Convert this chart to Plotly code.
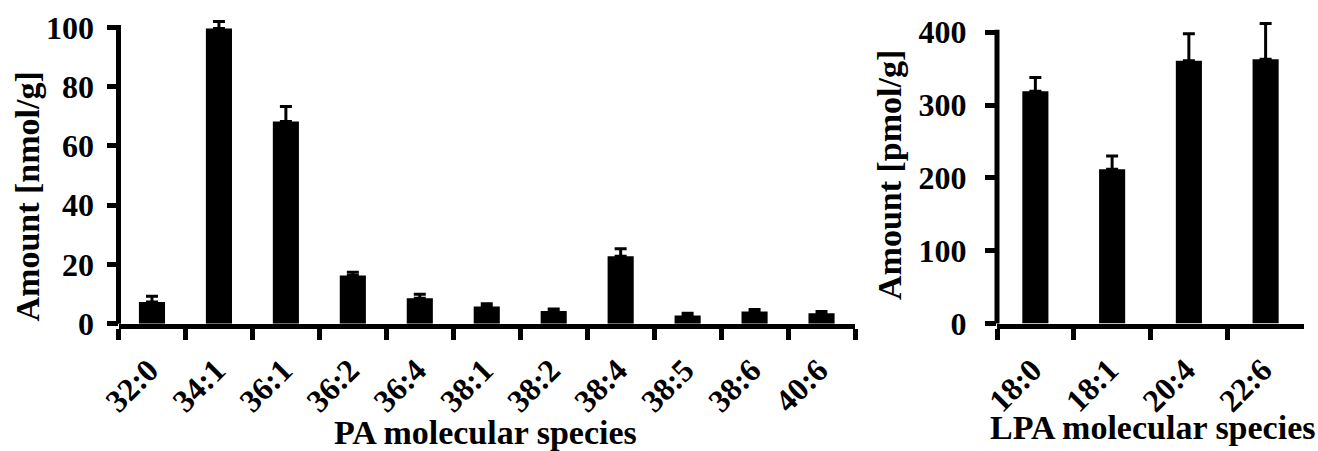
import plotly.graph_objects as go

pa_species = ["32:0", "34:1", "36:1", "36:2", "36:4", "38:1", "38:2", "38:4", "38:5", "38:6", "40:6"]
pa_amount = [7.3, 99.7, 68.3, 16.3, 8.6, 5.8, 4.3, 22.8, 2.8, 4.1, 3.5]
pa_error = [2.0, 2.3, 5.0, 1.1, 1.3, 0.9, 0.7, 2.5, 0.7, 0.7, 0.6]

lpa_species = ["18:0", "18:1", "20:4", "22:6"]
lpa_amount = [319, 212, 361, 363]
lpa_error = [19, 18, 37, 49]

pa_yticks = [0, 20, 40, 60, 80, 100]
lpa_yticks = [0, 100, 200, 300, 400]

W, H = 1318, 451
FONT = dict(family="Liberation Serif, Times New Roman, serif", color="black", weight="bold")
LW = 5  # axis line width (px)

# pixel geometry of the two plot areas
PA_Y0, PA_YMAX_PX = 323.7, 27.5      # pixel rows of y=0 and y=top tick
LPA_Y0, LPA_YMAX_PX = 323.5, 32.3
pa_top, lpa_top = pa_yticks[-1], lpa_yticks[-1]
pa_scale = (PA_Y0 - PA_YMAX_PX) / pa_top
lpa_scale = (LPA_Y0 - LPA_YMAX_PX) / lpa_top
# extend ranges so upward error bars are not clipped
pa_rmax = max(a + e for a, e in zip(pa_amount, pa_error)) * 1.03
lpa_rmax = max(a + e for a, e in zip(lpa_amount, lpa_error)) * 1.03

fig = go.Figure()
fig.add_trace(go.Bar(
    x=pa_species, y=pa_amount, width=0.39,
    marker=dict(color="black", line=dict(width=0)),
    error_y=dict(type="data", array=pa_error, symmetric=False, arrayminus=[0] * len(pa_error),
                 color="black", thickness=3, width=6),
    xaxis="x", yaxis="y", showlegend=False,
))
fig.add_trace(go.Bar(
    x=lpa_species, y=lpa_amount, width=0.34,
    marker=dict(color="black", line=dict(width=0)),
    error_y=dict(type="data", array=lpa_error, symmetric=False, arrayminus=[0] * len(lpa_error),
                 color="black", thickness=3, width=6),
    xaxis="x2", yaxis="y2", showlegend=False,
))

tick_common = dict(showgrid=False, zeroline=False, linecolor="black", linewidth=LW,
                   ticks="outside", ticklen=11, tickwidth=LW, tickcolor="black", automargin=False)
xfont = dict(size=32, **FONT)
yfont = dict(size=32, **FONT)

fig.update_layout(
    template="none",
    width=W, height=H,
    margin=dict(l=0, r=0, t=0, b=0),
    paper_bgcolor="white", plot_bgcolor="white",
    xaxis=dict(domain=[118.5 / W, 855 / W], anchor="y", tickangle=-45, tickson="boundaries",
               showline=True, tickfont=xfont, ticklabelstandoff=10, ticklabelshift=-3,
               **tick_common),
    yaxis=dict(domain=[(H - PA_Y0) / H, (H - (PA_Y0 - pa_rmax * pa_scale)) / H], anchor="x",
               range=[0, pa_rmax], tickvals=pa_yticks, tickfont=yfont, ticklabelstandoff=6,
               showline=False, **tick_common),
    xaxis2=dict(domain=[997 / W, 1304 / W], anchor="y2", tickangle=-45, tickson="boundaries",
                showline=True, tickfont=xfont, ticklabelstandoff=10, ticklabelshift=-3,
                **tick_common),
    yaxis2=dict(domain=[(H - LPA_Y0) / H, (H - (LPA_Y0 - lpa_rmax * lpa_scale)) / H], anchor="x2",
                range=[0, lpa_rmax], tickvals=lpa_yticks, tickfont=yfont, ticklabelstandoff=12,
                showline=False, **tick_common),
    shapes=[
        # y axis lines, drawn only up to the top tick
        dict(type="line", xref="x domain", yref="y", x0=0, x1=0,
             y0=-LW / 2 / pa_scale, y1=pa_top + LW / 2 / pa_scale,
             line=dict(color="black", width=LW), layer="above"),
        dict(type="line", xref="x2 domain", yref="y2", x0=0, x1=0,
             y0=-LW / 2 / lpa_scale, y1=lpa_top + LW / 2 / lpa_scale,
             line=dict(color="black", width=LW), layer="above"),
    ],
    annotations=[
        dict(text="Amount [nmol/g]", xref="paper", yref="paper", x=27 / W, y=(H - 196.5) / H,
             textangle=-90, showarrow=False, font=dict(size=34, **FONT),
             xanchor="center", yanchor="middle"),
        dict(text="Amount [pmol/g]", xref="paper", yref="paper", x=889 / W, y=(H - 175) / H,
             textangle=-90, showarrow=False, font=dict(size=34, **FONT),
             xanchor="center", yanchor="middle"),
        dict(text="PA molecular species", xref="paper", yref="paper", x=485 / W, y=(H - 432) / H,
             showarrow=False, font=dict(size=34, **FONT), xanchor="center", yanchor="middle"),
        dict(text="LPA molecular species", xref="paper", yref="paper", x=1152 / W, y=(H - 427) / H,
             showarrow=False, font=dict(size=34, **FONT), xanchor="center", yanchor="middle"),
    ],
)

fig.write_html("out.html")
